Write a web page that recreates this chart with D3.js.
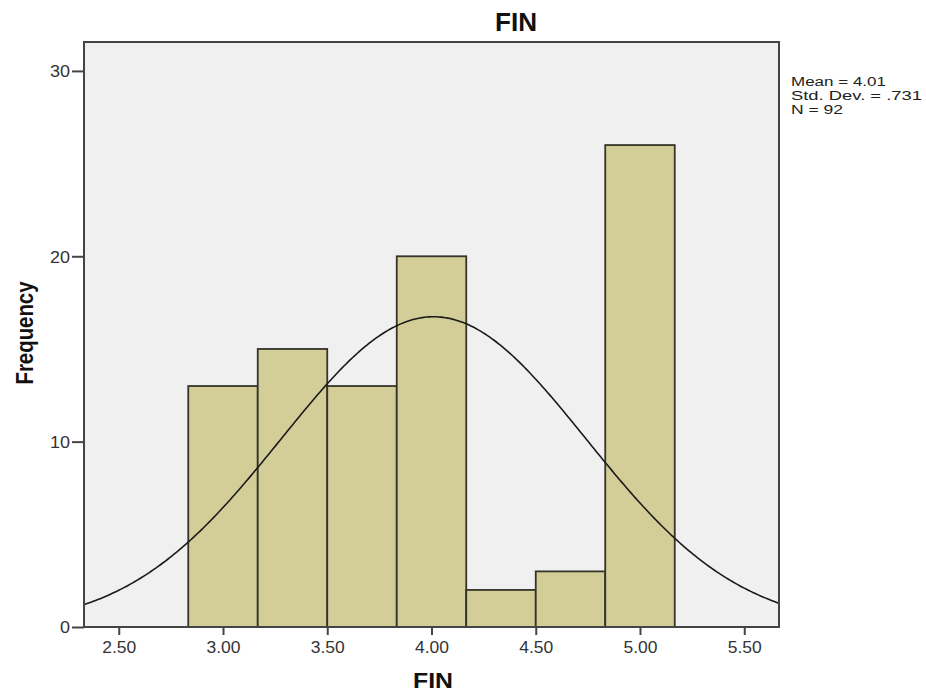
<!DOCTYPE html>
<html><head><meta charset="utf-8">
<script src="https://cdn.jsdelivr.net/npm/d3@7"></script>
<style>body{margin:0;background:#fff;font-family:"Liberation Sans",Arial,sans-serif;}</style>
</head><body><svg id="c" width="926" height="695"></svg>
<script>
const binCenters = [3.0, 3.3333, 3.6667, 4.0, 4.3333, 4.6667, 5.0];
const frequencies = [13, 15, 13, 20, 2, 3, 26];
const binWidth = 1/3;
const xTicks = [2.5, 3.0, 3.5, 4.0, 4.5, 5.0, 5.5];
const yTicks = [0, 10, 20, 30];
const statLines = ["Mean = 4.01", "Std. Dev. = .731", "N = 92"];
const mean = 4.01, sd = 0.731, n = 92;

const svg = d3.select("#c");
const L = 84, R = 779, T = 42, B = 627;
const x = d3.scaleLinear().domain([2.3333, 5.6667]).range([L, R]);
const y = d3.scaleLinear().domain([0, 31.56]).range([B, T]);
const FF = "Liberation Sans, Arial, sans-serif";

svg.append("rect").attr("x", L).attr("y", T).attr("width", R-L).attr("height", B-T)
  .attr("fill", "#f0f0f0");

svg.append("g").selectAll("rect").data(binCenters).join("rect")
  .attr("x", (d) => x(d - binWidth/2))
  .attr("width", (d) => x(d + binWidth/2) - x(d - binWidth/2))
  .attr("y", (d, i) => y(frequencies[i]))
  .attr("height", (d, i) => B - y(frequencies[i]))
  .attr("fill", "#d3ce97").attr("stroke", "#34342a").attr("stroke-width", 1.8);

// normal curve from the displayed stats
const xs = d3.range(0, 301).map(i => 2.3333 + i * (5.6667 - 2.3333) / 300);
const pdf = v => n * binWidth / (sd * Math.sqrt(2*Math.PI)) * Math.exp(-0.5*((v-mean)/sd)**2);
svg.append("path").datum(xs)
  .attr("d", d3.line().x(v => x(v)).y(v => y(pdf(v))))
  .attr("fill", "none").attr("stroke", "#1a1a1a").attr("stroke-width", 1.6);

// frame
svg.append("rect").attr("x", L).attr("y", T).attr("width", R-L).attr("height", B-T)
  .attr("fill", "none").attr("stroke", "#444").attr("stroke-width", 2);

const xa = svg.append("g").attr("transform", `translate(0,${B})`)
  .call(d3.axisBottom(x).tickValues(xTicks).tickFormat(d3.format(".2f")).tickSize(8).tickPadding(4));
const ya = svg.append("g").attr("transform", `translate(${L},0)`)
  .call(d3.axisLeft(y).tickValues(yTicks).tickSize(12).tickPadding(2));
[xa, ya].forEach(a => {
  a.select(".domain").remove();
  a.selectAll("line").attr("stroke", "#444").attr("stroke-width", 2);
  a.selectAll("text").attr("fill", "#333").style("font-size", "16px").style("font-family", FF)
   .attr("lengthAdjust", "spacingAndGlyphs");
});
xa.selectAll("text").attr("textLength", 34).attr("dy", null).attr("y", 0)
  .attr("transform", "translate(0,26)");
ya.selectAll("text").attr("textLength", d => String(d).length * 10).attr("dy", "0.36em");

function label(txt, x0, y0, size, len, rot) {
  svg.append("text").attr("transform", `translate(${x0},${y0})` + (rot ? " rotate(-90)" : ""))
    .attr("text-anchor", "middle").style("font-size", size + "px").style("font-weight", "bold")
    .style("font-family", FF).attr("fill", "#111")
    .attr("textLength", len).attr("lengthAdjust", "spacingAndGlyphs").text(txt);
}
label("FIN", 516, 31, 25, 42, false);
label("FIN", 433, 688, 22, 40, false);
label("Frequency", 33, 333, 23, 103, true);

const statLen = [95, 131, 52];
svg.append("g").selectAll("text").data(statLines).join("text")
  .attr("x", 791).attr("y", (d, i) => 85.5 + i * 14.3)
  .style("font-size", "12.5px").style("font-family", FF).attr("fill", "#222")
  .attr("textLength", (d, i) => statLen[i]).attr("lengthAdjust", "spacingAndGlyphs")
  .text(d => d);
</script></body></html>
